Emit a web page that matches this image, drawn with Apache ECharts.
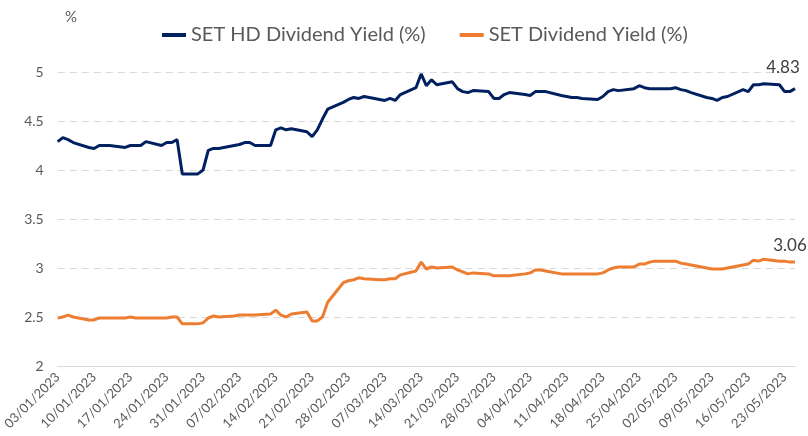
<!DOCTYPE html>
<html>
<head>
<meta charset="utf-8">
<script src="https://cdn.jsdelivr.net/npm/echarts@6/dist/echarts.min.js"></script>
<style>
  html, body { margin: 0; padding: 0; background: #fff; }
  #chart { width: 808px; height: 436px; }
</style>
</head>
<body>
<div id="chart"></div>
<script>
// trading days (weekdays)
const tradeDates = [
  '03/01/2023', '04/01/2023', '05/01/2023', '06/01/2023',
  '09/01/2023', '10/01/2023', '11/01/2023', '12/01/2023', '13/01/2023',
  '16/01/2023', '17/01/2023', '18/01/2023', '19/01/2023', '20/01/2023',
  '23/01/2023', '24/01/2023', '25/01/2023', '26/01/2023', '27/01/2023',
  '30/01/2023', '31/01/2023', '01/02/2023', '02/02/2023', '03/02/2023',
  '06/02/2023', '07/02/2023', '08/02/2023', '09/02/2023', '10/02/2023',
  '13/02/2023', '14/02/2023', '15/02/2023', '16/02/2023', '17/02/2023',
  '20/02/2023', '21/02/2023', '22/02/2023', '23/02/2023', '24/02/2023',
  '27/02/2023', '28/02/2023', '01/03/2023', '02/03/2023', '03/03/2023',
  '06/03/2023', '07/03/2023', '08/03/2023', '09/03/2023', '10/03/2023',
  '13/03/2023', '14/03/2023', '15/03/2023', '16/03/2023', '17/03/2023',
  '20/03/2023', '21/03/2023', '22/03/2023', '23/03/2023', '24/03/2023',
  '27/03/2023', '28/03/2023', '29/03/2023', '30/03/2023', '31/03/2023',
  '03/04/2023', '04/04/2023', '05/04/2023', '06/04/2023', '07/04/2023',
  '10/04/2023', '11/04/2023', '12/04/2023', '13/04/2023', '14/04/2023',
  '17/04/2023', '18/04/2023', '19/04/2023', '20/04/2023', '21/04/2023',
  '24/04/2023', '25/04/2023', '26/04/2023', '27/04/2023', '28/04/2023',
  '01/05/2023', '02/05/2023', '03/05/2023', '04/05/2023', '05/05/2023',
  '08/05/2023', '09/05/2023', '10/05/2023', '11/05/2023', '12/05/2023',
  '15/05/2023', '16/05/2023', '17/05/2023', '18/05/2023', '19/05/2023',
  '22/05/2023', '23/05/2023', '24/05/2023', '25/05/2023'
]

const hdYield = [
  4.29, 4.33, 4.31, 4.28,
  4.23, 4.22, 4.25, 4.25, 4.25,
  4.23, 4.25, 4.25, 4.25, 4.29,
  4.25, 4.28, 4.28, 4.31, 3.96,
  3.96, 4.00, 4.20, 4.22, 4.22,
  4.25, 4.26, 4.28, 4.28, 4.25,
  4.25, 4.41, 4.43, 4.41, 4.42,
  4.39, 4.34, 4.41, 4.52, 4.62,
  4.69, 4.72, 4.74, 4.73, 4.75,
  4.72, 4.71, 4.73, 4.71, 4.77,
  4.84, 4.98, 4.86, 4.92, 4.87,
  4.90, 4.83, 4.80, 4.79, 4.81,
  4.80, 4.73, 4.73, 4.77, 4.79,
  4.77, 4.76, 4.80, 4.80, 4.80,
  4.76, 4.75, 4.74, 4.74, 4.73,
  4.72, 4.75, 4.80, 4.82, 4.81,
  4.83, 4.86, 4.84, 4.83, 4.83,
  4.83, 4.84, 4.82, 4.81, 4.79,
  4.74, 4.73, 4.71, 4.74, 4.75,
  4.82, 4.80, 4.87, 4.87, 4.88,
  4.87, 4.80, 4.80, 4.83
]

const setYield = [
  2.49, 2.50, 2.52, 2.50,
  2.47, 2.47, 2.49, 2.49, 2.49,
  2.49, 2.50, 2.49, 2.49, 2.49,
  2.49, 2.49, 2.50, 2.50, 2.43,
  2.43, 2.44, 2.49, 2.51, 2.50,
  2.51, 2.52, 2.52, 2.52, 2.52,
  2.53, 2.57, 2.52, 2.50, 2.53,
  2.55, 2.46, 2.46, 2.50, 2.65,
  2.85, 2.87, 2.88, 2.90, 2.89,
  2.88, 2.88, 2.89, 2.89, 2.93,
  2.97, 3.06, 2.99, 3.01, 3.00,
  3.01, 2.98, 2.96, 2.94, 2.95,
  2.94, 2.92, 2.92, 2.92, 2.92,
  2.94, 2.95, 2.98, 2.98, 2.97,
  2.94, 2.94, 2.94, 2.94, 2.94,
  2.94, 2.95, 2.98, 3.00, 3.01,
  3.01, 3.04, 3.04, 3.06, 3.07,
  3.07, 3.07, 3.05, 3.04, 3.03,
  3.00, 2.99, 2.99, 2.99, 3.00,
  3.03, 3.04, 3.08, 3.07, 3.09,
  3.07, 3.07, 3.06, 3.06
]

const seriesNames = ['SET HD Dividend Yield (%)', 'SET Dividend Yield (%)']
const yTicks = { min: 2, max: 5, step: 0.5 }

// calendar axis: every day between first and last trading day
function fmt(d) {
  const dd = String(d.getUTCDate()).padStart(2, '0')
  const mm = String(d.getUTCMonth() + 1).padStart(2, '0')
  return dd + '/' + mm + '/' + d.getUTCFullYear()
}
function parse(s) {
  const p = s.split('/')
  return Date.UTC(+p[2], +p[1] - 1, +p[0])
}
const calendarDays = []
for (let t = parse(tradeDates[0]); t <= parse(tradeDates[tradeDates.length - 1]); t += 86400000) {
  calendarDays.push(fmt(new Date(t)))
}

function toSeries(values, offset) {
  const out = calendarDays.map(() => null)
  tradeDates.forEach((d, i) => {
    out[calendarDays.indexOf(d)] = values[i]
  })
  // the last point gets the value label
  const last = out.length - 1
  out[last] = {
    value: out[last],
    label: {
      show: true,
      position: 'top',
      distance: 5,
      offset: offset,
      color: '#404040',
      fontSize: 17,
      fontFamily: 'Lato',
      formatter: p => Number(p.value).toFixed(2)
    }
  }
  return out
}

function lineSeries(name, color, values, offset) {
  return {
    name: name,
    type: 'line',
    symbol: 'circle',
    symbolSize: 0,
    showSymbol: true,
    showAllSymbol: true,
    connectNulls: true,
    color: color,
    lineStyle: { width: 3 },
    emphasis: { disabled: true },
    data: toSeries(values, offset)
  }
}

const chart = echarts.init(document.getElementById('chart'))
chart.setOption({
  animation: false,
  title: {
    text: '%',
    left: 60,
    top: 5,
    textStyle: { color: '#595959', fontSize: 15, fontWeight: 'normal', fontFamily: 'Lato' }
  },
  legend: {
    left: 157,
    top: 20,
    itemWidth: 24,
    itemHeight: 4,
    itemGap: 34,
    icon: 'rect',
    textStyle: { color: '#595959', fontSize: 20, fontFamily: 'Lato' },
    data: seriesNames
  },
  grid: {
    left: 55,
    right: 13,
    top: 72,
    bottom: 70
  },
  xAxis: {
    type: 'category',
    data: calendarDays,
    boundaryGap: false,
    axisTick: { show: false },
    axisLine: { lineStyle: { color: '#D9D9D9', width: 1 } },
    axisLabel: {
      interval: 6,
      rotate: 45,
      margin: 9,
      color: '#595959',
      fontSize: 13,
      fontFamily: 'Lato'
    }
  },
  yAxis: {
    type: 'value',
    min: yTicks.min,
    max: yTicks.max,
    interval: yTicks.step,
    axisLine: { show: false },
    axisTick: { show: false },
    axisLabel: { color: '#595959', fontSize: 14, fontFamily: 'Lato', margin: 14 },
    splitLine: {
      lineStyle: { color: '#D9D9D9', width: 1, type: [7, 5] }
    }
  },
  series: [
    lineSeries(seriesNames[0], '#002060', hdYield, [-12, -8]),
    lineSeries(seriesNames[1], '#ED7D31', setYield, [-5, -3])
  ]
})
</script>
</body>
</html>
